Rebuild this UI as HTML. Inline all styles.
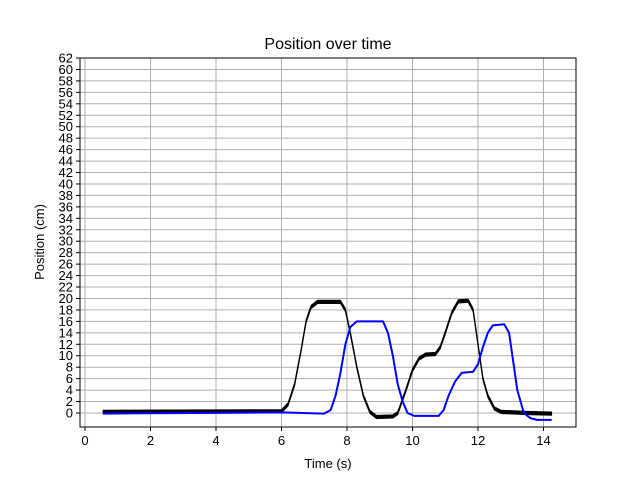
<!DOCTYPE html>
<html><head><meta charset="utf-8"><style>
body{margin:0;background:#fff}
svg text{font-family:"Liberation Sans","DejaVu Sans",sans-serif;fill:#000}
</style></head><body>
<svg id="chart" width="640" height="480" xmlns="http://www.w3.org/2000/svg">
<rect width="640" height="480" fill="#fff"/>
<g id="grid"></g>
<g id="series"></g>
<rect x="80" y="58" width="496" height="369" fill="none" stroke="#000" stroke-width="1"/>
<g id="ticks"></g>
<text x="328" y="49" text-anchor="middle" font-size="16">Position over time</text>
<text x="328" y="468" text-anchor="middle" font-size="13">Time (s)</text>
<text transform="translate(44,242) rotate(-90)" text-anchor="middle" font-size="13">Position (cm)</text>
</svg>
<script>
const xTicks=[0,2,4,6,8,10,12,14];
const yTicks=[0,2,4,6,8,10,12,14,16,18,20,22,24,26,28,30,32,34,36,38,40,42,44,46,48,50,52,54,56,58,60,62];
const blackT=[0.55,6.0,6.2,6.4,6.6,6.75,6.9,7.1,7.8,7.95,8.1,8.3,8.5,8.7,8.9,9.4,9.55,9.8,10.0,10.2,10.4,10.7,10.85,11.0,11.2,11.4,11.7,11.85,12.0,12.15,12.3,12.5,12.7,13.5,14.25];
const blackY=[0.2,0.3,1.5,5,11,16,18.5,19.4,19.4,18,14,8,3,0.2,-0.7,-0.6,0,4,7.5,9.5,10.2,10.3,11.5,14,17.5,19.5,19.6,18,12,6,3,0.8,0.2,0,-0.1];
const blueT=[0.55,6.0,7.3,7.5,7.65,7.8,7.95,8.1,8.3,9.1,9.25,9.4,9.55,9.7,9.85,10.05,10.8,10.95,11.1,11.3,11.5,11.85,12.0,12.15,12.3,12.45,12.8,12.95,13.05,13.2,13.4,13.6,13.8,14.25];
const blueY=[-0.1,0.1,-0.1,0.5,3,7,12,15,16,16,14,10,5,2,0,-0.5,-0.5,0.5,3,5.5,7,7.2,8.5,11.5,14,15.3,15.5,14,10,4,0,-0.9,-1.2,-1.2];
const NS="http://www.w3.org/2000/svg";
const xs=t=>85+t*32.75;
const ys=v=>413-v*(355/62);
const grid=document.getElementById('grid'),ticks=document.getElementById('ticks'),ser=document.getElementById('series');
function mk(tag,attrs,parent){const e=document.createElementNS(NS,tag);for(const k in attrs)e.setAttribute(k,attrs[k]);parent.appendChild(e);return e;}
xTicks.forEach(t=>{
 const g=mk('line',{x1:xs(t),x2:xs(t),y1:58,y2:427,stroke:'#b0b0b0','stroke-width':1},grid);
 
 
 const tk=mk('line',{x1:xs(t),x2:xs(t),y1:427,y2:431,stroke:'#000'},ticks);
 
 
 const tx=mk('text',{x:xs(t),y:445,'text-anchor':'middle','font-size':13},ticks);tx.textContent=t;
 
 
});
yTicks.forEach(v=>{
 const g=mk('line',{x1:80,x2:576,y1:ys(v),y2:ys(v),stroke:'#b0b0b0','stroke-width':1},grid);
 
 
 const tk=mk('line',{x1:76,x2:80,y1:ys(v),y2:ys(v),stroke:'#000'},ticks);
 
 
 const tx=mk('text',{x:73,y:ys(v)+4.5,'text-anchor':'end','font-size':13},ticks);tx.textContent=v;
 
 
});
function ptsArr(T,Y,off){return T.map((t,i)=>xs(t)+','+ys(Y[i]+off));}
const up=ptsArr(blackT,blackY,0.3),lo=ptsArr(blackT,blackY,-0.3).reverse();
const band=mk('polygon',{points:up.concat(lo).join(' '),fill:'#000',stroke:'#000','stroke-width':0.8,'stroke-linejoin':'round'},ser);


const bl=mk('polyline',{points:ptsArr(blackT,blackY,0).join(' '),fill:'none',stroke:'#000','stroke-width':1.2,'stroke-linejoin':'round'},ser);


const b=mk('polyline',{points:ptsArr(blueT,blueY,0).join(' '),fill:'none',stroke:'#0000ff','stroke-width':2,'stroke-linejoin':'round'},ser);


</script>
</body></html>
